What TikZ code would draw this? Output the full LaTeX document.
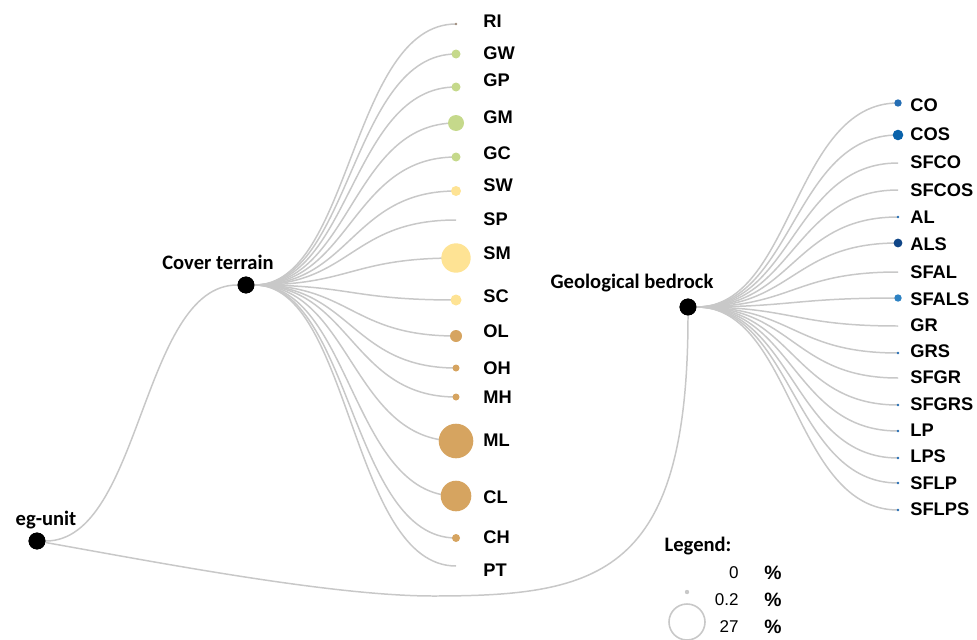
\documentclass[tikz,border=0pt]{standalone}
\usepackage{fontspec}
\setmainfont{Liberation Sans}
\newfontfamily\calfont{Carlito}
\definecolor{linkgray}{RGB}{200,200,200}
\definecolor{riC}{RGB}{160,140,125}
\definecolor{grn}{RGB}{197,217,139}
\definecolor{ylw}{RGB}{254,227,148}
\definecolor{tan}{RGB}{214,164,96}
\definecolor{bluA}{RGB}{37,110,180}
\definecolor{bluB}{RGB}{10,98,170}
\definecolor{bluC}{RGB}{16,70,135}
\definecolor{bluD}{RGB}{45,130,195}
\tikzset{
  hub/.style={circle,fill=black,inner sep=0pt,minimum size=9.6pt},
  link/.style={linkgray,line width=0.85pt},
  title/.style={font=\calfont\bfseries\fontsize{11.7}{14}\selectfont},
  leaf/.style={anchor=west,inner sep=0pt,font=\bfseries\fontsize{10.4}{12}\selectfont}
}
\begin{document}
\begin{tikzpicture}[x=0.02cm,y=-0.02cm]
  \useasboundingbox (0,0) rectangle (977,639);
  \node[hub] (eg) at (37,541) {};
  \node[hub] (cover) at (246,285) {};
  \node[hub] (bed) at (688,307) {};
  \coordinate (low) at (433,596);
  % links between the three main units
  \draw[link] (eg) .. controls +(104.5,0) and +(-104.5,0) .. (cover);
  \draw[link] (eg) .. controls (150,561) and (330,596) .. (low)
    .. controls (600,596) and (688,575) .. (bed);
  % cover terrain leaves
  \foreach \y/\ly/\r/\c/\lbl in {24/21/1.3/riC/RI, 54/53/4.5/grn/GW, 87/80/4.5/grn/GP,
      123/117/8/grn/GM, 157/153/4.5/grn/GC, 191/185/5/ylw/SW, 220/219/0/ylw/SP,
      258/253/14.7/ylw/SM, 300/296/5.5/ylw/SC, 336/331/6/tan/OL, 368/368/3.5/tan/OH,
      397/397/3.5/tan/MH, 441/440/17.3/tan/ML, 496/497/15.3/tan/CL, 538/537/4/tan/CH,
      566/570/0/tan/PT} {
    \coordinate (c\lbl) at (456,\y);
    \draw[link] (cover) .. controls +(105,0) and +(-105,0) .. (c\lbl);
    \fill[\c] (c\lbl) circle[radius=\r];
    \node[leaf] (t\lbl) at (483,\ly) {\lbl};
  }
  % geological bedrock leaves
  \foreach \y/\ly/\r/\c/\lbl in {103/105/3.7/bluA/CO, 135/134/5.3/bluB/COS,
      163/162/0/bluA/SFCO, 190/190/0/bluA/SFCOS, 217/217/1.4/bluA/AL,
      243/244/4.4/bluC/ALS, 272/272/0/bluA/SFAL, 298/299/3.7/bluD/SFALS,
      326/325/0/bluA/GR, 353/351/1.4/bluA/GRS, 378/377/0/bluA/SFGR,
      405/404/1.4/bluA/SFGRS, 431/430/1.4/bluA/LP, 458/456/1.4/bluA/LPS,
      483/483/1.4/bluA/SFLP, 510/509/1.4/bluA/SFLPS} {
    \coordinate (b\lbl) at (898,\y);
    \draw[link] (bed) .. controls +(105,0) and +(-105,0) .. (b\lbl);
    \fill[\c] (b\lbl) circle[radius=\r];
    \node[leaf] (t\lbl) at (910,\ly) {\lbl};
  }
  \node[hub] at (eg) {};
  \node[hub] at (cover) {};
  \node[hub] at (bed) {};
  \node[title] (egtxt) at (46,520) {eg-unit};
  \node[title] (covertxt) at (218,262) {Cover terrain};
  \node[title] (bedtxt) at (632,283) {Geological bedrock};
  % legend
  \node[title] (legend) at (698,546) {Legend:};
  \foreach \y/\v/\r in {573/0/0, 600/0.2/1.8, 627/27/18} {
    \node[anchor=east,inner sep=0pt,font=\fontsize{9.7}{12}\selectfont] (lv\y) at (739,\y) {\v};
    \node[font=\bfseries\fontsize{11}{13}\selectfont] (lp\y) at (773,\y) {\%};
  }
  \fill[linkgray] (687,592) circle[radius=2.2];
  \draw[linkgray,line width=0.9pt] (687,622) circle[radius=18];
\end{tikzpicture}
\end{document}
